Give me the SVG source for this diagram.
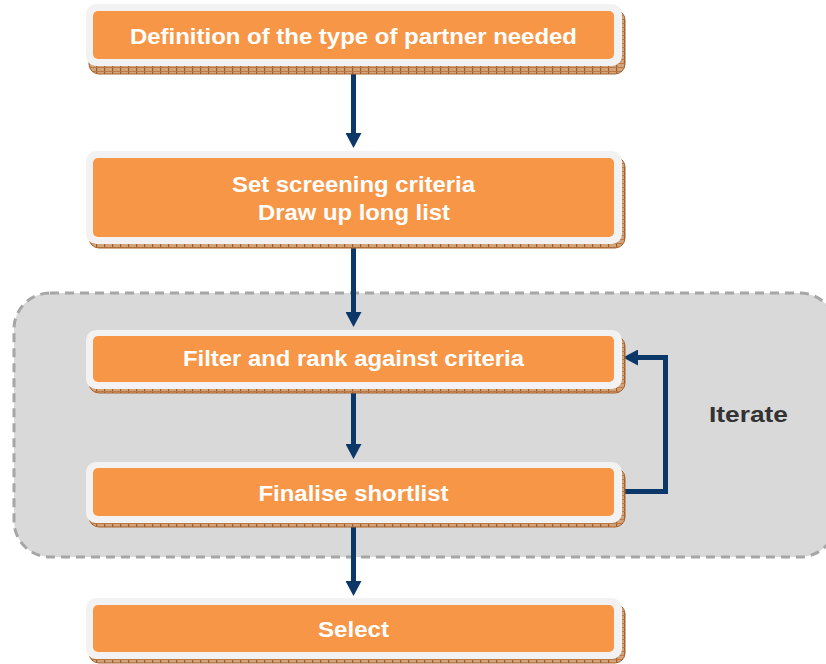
<svg xmlns="http://www.w3.org/2000/svg" width="826" height="664" viewBox="0 0 826 664">
<defs>
<pattern id="hatch" patternUnits="userSpaceOnUse" width="8" height="4">
<rect width="8" height="4" fill="#d2a47c"/>
<rect x="0" y="0" width="1.2" height="4" fill="#a35a25"/>
<rect x="0" y="3" width="8" height="1" fill="#b97a48"/>
</pattern>
<marker id="ah" markerUnits="userSpaceOnUse" viewBox="0 0 15 16" refX="1" refY="8" markerWidth="15" markerHeight="16" orient="auto">
<path d="M0,0 L15,8 L0,16 Z" fill="#0b3868"/>
</marker>
<style>
.shadow{fill:url(#hatch);stroke:#a9622c;stroke-width:1}
.frame{fill:#f2f2f2}
.box{fill:#f79646}
.lbl{font-family:"Liberation Sans",Arial,sans-serif;font-weight:bold;font-size:22px;fill:#ffffff;text-anchor:middle}
.conn{stroke:#0b3868;stroke-width:5;fill:none}
</style>
</defs>
<rect width="826" height="664" fill="#ffffff"/>
<g id="iterate-group">
<rect x="14" y="293" width="822" height="264" rx="36" ry="36" fill="#d9d9d9" stroke="#a6a6a6" stroke-width="3" stroke-dasharray="9 6"/>
<text x="748.5" y="422" font-family="'Liberation Sans',Arial,sans-serif" font-weight="bold" font-size="22" fill="#333333" text-anchor="middle" textLength="79" lengthAdjust="spacingAndGlyphs">Iterate</text>
</g>
<g id="connectors">
<line class="conn" x1="353.5" y1="66" x2="353.5" y2="134" marker-end="url(#ah)"/>
<line class="conn" x1="353.5" y1="248" x2="353.5" y2="313" marker-end="url(#ah)"/>
<line class="conn" x1="353.5" y1="393" x2="353.5" y2="445" marker-end="url(#ah)"/>
<line class="conn" x1="353.5" y1="527" x2="353.5" y2="582" marker-end="url(#ah)"/>
<polyline class="conn" points="622,491.5 665.5,491.5 665.5,357.5 637,357.5" marker-end="url(#ah)"/>
</g>
<g id="n1">
<rect class="shadow" x="89" y="10" width="536" height="64" rx="10"/>
<rect class="frame" x="86" y="4" width="536" height="62" rx="10"/>
<rect class="box" x="93" y="11" width="521" height="48" rx="5"/>
<text class="lbl" x="353.5" y="44" textLength="447" lengthAdjust="spacingAndGlyphs">Definition of the type of partner needed</text>
</g>
<g id="n2">
<rect class="shadow" x="89" y="157" width="536" height="91" rx="10"/>
<rect class="frame" x="86" y="151" width="536" height="93" rx="10"/>
<rect class="box" x="93" y="158" width="521" height="79" rx="5"/>
<text class="lbl" x="353.5" y="192" textLength="243" lengthAdjust="spacingAndGlyphs">Set screening criteria</text>
<text class="lbl" x="354" y="220" textLength="192" lengthAdjust="spacingAndGlyphs">Draw up long list</text>
</g>
<g id="n3">
<rect class="shadow" x="89" y="336" width="536" height="57" rx="10"/>
<rect class="frame" x="86" y="330" width="536" height="59" rx="10"/>
<rect class="box" x="93" y="336" width="521" height="46" rx="5"/>
<text class="lbl" x="353.5" y="366" textLength="341" lengthAdjust="spacingAndGlyphs">Filter and rank against criteria</text>
</g>
<g id="n4">
<rect class="shadow" x="89" y="468" width="536" height="59" rx="10"/>
<rect class="frame" x="86" y="462" width="536" height="61" rx="10"/>
<rect class="box" x="93" y="468" width="521" height="48" rx="5"/>
<text class="lbl" x="353.5" y="501" textLength="190" lengthAdjust="spacingAndGlyphs">Finalise shortlist</text>
</g>
<g id="n5">
<rect class="shadow" x="89" y="604" width="536" height="59" rx="10"/>
<rect class="frame" x="86" y="598" width="536" height="61" rx="10"/>
<rect class="box" x="93" y="605" width="521" height="47" rx="5"/>
<text class="lbl" x="353.5" y="637" textLength="71" lengthAdjust="spacingAndGlyphs">Select</text>
</g>
</svg>
